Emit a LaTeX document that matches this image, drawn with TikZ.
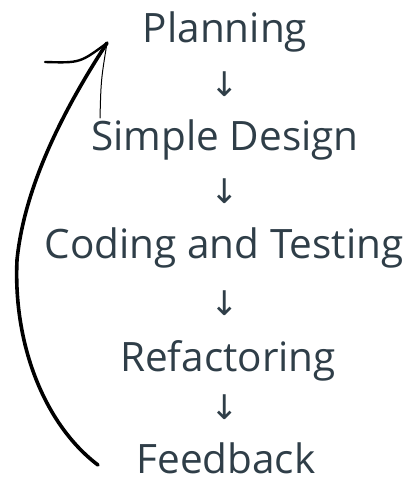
\documentclass[tikz,border=0pt]{standalone}
\usepackage{fontspec}
\setmainfont{Open Sans}
\newfontfamily\arrowfont{DejaVu Sans}
\usepackage{tikz}
\usetikzlibrary{positioning}
\definecolor{slate}{HTML}{2F3E48}
\tikzstyle{step text} = [text=slate, anchor=base, inner sep=0pt, font=\fontsize{40.5}{42}\selectfont]
\tikzstyle{down} = [text=slate, inner sep=0pt, font=\arrowfont\fontsize{34}{36}\selectfont]

\begin{document}
\begin{tikzpicture}[x=1pt,y=-1pt]
	\useasboundingbox (0,0) rectangle (409,478);
	\node[step text] (plan) at (225,43) {Planning};
	\node[step text] (design) at (225,151) {Simple Design};
	\node[step text] (coding) at (224,258) {Coding and Testing};
	\node[step text] (refactor) at (228,371) {Refactoring};
	\node[step text] (feedback) at (226,473) {Feedback};
	\node[down] (d1) at (225,84) {↓};
	\node[down] (d2) at (225,191) {↓};
	\node[down] (d3) at (225,303) {↓};
	\node[down] (d4) at (225,407) {↓};
	% loop back from Feedback to Planning
	\coordinate (tail) at (98,465);
	\coordinate (tip) at (107,43);
	\draw[line width=3.6pt,line cap=round] (tail) .. controls (45,425) and (13,345) .. (17,260) .. controls (25,180) and (70,100) .. (tip);
	\draw[line width=2.4pt,line cap=round] (45,62) .. controls (80,63) .. (tip);
	\draw[line width=1pt,line cap=round] (tip) .. controls (101,80) .. (100,118);
\end{tikzpicture}
\end{document}
